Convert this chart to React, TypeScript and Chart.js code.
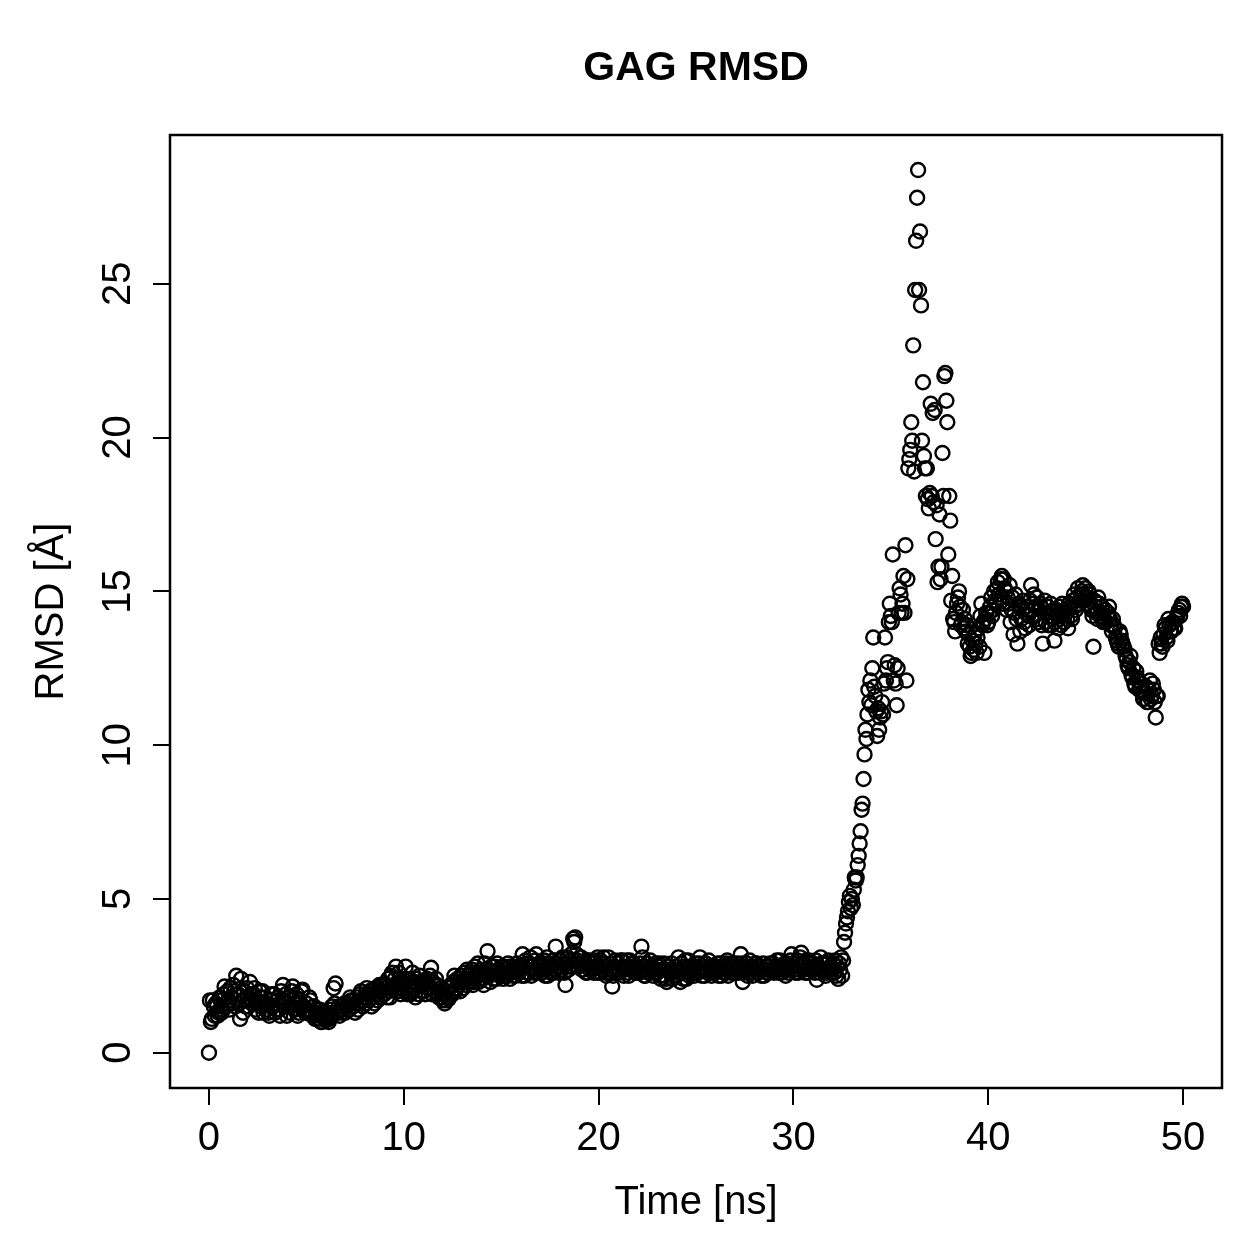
import React, { useEffect, useRef } from "react";
import { Chart, registerables } from "chart.js";

Chart.register(...registerables);

const title = "GAG RMSD";
const xLabel = "Time [ns]";
const yLabel = "RMSD [Å]";
const xTicks = [0, 10, 20, 30, 40, 50];
const yTicks = [0, 5, 10, 15, 20, 25];

// RMSD frames at 0.0, 0.1, 0.2 ... 50.0 ns
const timeStep = 0.1;
const rmsd = [
  0.0, 1.0, 1.7, 1.2, 1.5, 1.3, 1.7, 1.4, 2.15, 1.5,
  1.7, 2.1, 1.6, 2.0, 2.5, 1.9, 1.1, 1.7, 2.0, 1.5,
  1.8, 2.3, 1.6, 1.9, 1.4, 1.7, 2.0, 1.5, 1.3, 1.8,
  1.6, 1.2, 1.9, 1.5, 1.3, 1.7, 1.4, 2.0, 2.2, 1.6,
  1.2, 1.8, 1.5, 2.15, 1.4, 1.9, 1.3, 1.6, 2.05, 1.4,
  1.6, 1.3, 1.7, 1.2, 1.5, 1.3, 1.1, 1.4, 1.0, 1.2,
  1.05, 1.3, 1.1, 1.5, 2.1, 2.25, 1.3, 1.2, 1.5, 1.4,
  1.3, 1.6, 1.4, 1.7, 1.5, 1.3, 1.8, 1.6, 2.0, 1.5,
  1.8, 2.1, 1.7, 1.9, 2.05, 1.6, 1.9, 2.0, 1.8, 2.2,
  1.9, 2.1, 2.4, 1.8, 2.6, 2.2, 2.8, 2.0, 2.3, 2.1,
  2.2, 2.8, 1.9, 2.4, 2.0, 2.3, 1.8, 2.2, 2.5, 2.0,
  2.2, 1.9, 2.4, 2.1, 2.76, 2.3, 2.0, 2.2, 1.8, 2.1,
  1.7, 1.6, 2.0, 1.75, 2.2, 1.9, 2.5, 2.1, 2.3, 2.0,
  2.3, 2.6, 2.2, 2.5, 2.4, 2.7, 2.3, 2.6, 2.9, 2.4,
  2.6, 2.2, 2.7, 3.3, 2.5, 2.8, 2.4, 2.6, 2.9, 2.5,
  2.6, 2.4, 2.7, 2.5, 2.8, 2.6, 2.5, 2.7, 2.9, 2.6,
  2.7, 3.2, 2.5, 2.9, 2.6, 3.1, 2.8, 2.6, 3.2, 2.7,
  2.9, 2.6, 3.0, 2.7, 2.5, 2.9, 2.8, 2.6, 3.45, 2.8,
  3.0, 2.7, 2.9, 2.2, 3.1, 2.8, 3.2, 3.7, 3.75, 3.0,
  2.9, 3.1, 2.7, 2.9, 2.6, 3.0, 2.8, 2.7, 3.0, 2.6,
  2.8, 3.0, 2.7, 2.9, 2.5, 3.1, 2.7, 2.15, 2.8, 2.6,
  2.9, 2.7, 3.0, 2.5, 2.8, 2.6, 3.0, 2.7, 2.9, 2.6,
  2.8, 2.6, 3.45, 2.7, 2.5, 2.9, 2.6, 2.8, 2.5, 2.7,
  2.6, 2.9, 2.4, 2.7, 2.5, 2.3, 2.8, 2.6, 2.4, 2.7,
  2.5, 3.1, 2.3, 2.6, 2.8, 2.4, 3.0, 2.6, 2.7, 2.5,
  2.8, 2.6, 3.1, 2.5, 2.7, 2.9, 2.6, 2.8, 2.5, 2.7,
  2.6, 2.9, 2.7, 2.5, 2.8, 2.6, 3.0, 2.7, 2.6, 2.8,
  2.7, 2.9, 2.6, 3.2, 2.3, 2.7, 2.9, 2.6, 2.8, 2.5,
  2.7, 2.9, 2.6, 2.8, 2.7, 2.5, 2.8, 2.6, 2.9, 2.7,
  2.6, 2.8, 2.7, 3.0, 2.6, 2.8, 2.5, 2.9, 2.7, 3.2,
  2.8, 2.6, 3.0, 2.7, 3.25, 2.9, 2.6, 2.8, 3.0, 2.7,
  2.9, 2.6, 2.37, 2.8, 3.1, 2.7, 2.9, 2.6, 3.0, 2.8,
  2.7, 2.6, 2.5, 2.4, 2.7, 2.5, 3.6, 4.2, 4.6, 5.1,
  5.0, 5.3, 5.6, 6.1, 6.8, 7.9, 8.9, 10.5, 11.0, 11.4,
  11.3, 13.5, 11.6, 10.3, 10.5, 11.1, 11.0, 13.5, 12.5, 14.0,
  14.2, 16.2, 12.6, 11.3, 14.3, 14.9, 14.6, 14.3, 12.1, 19.0,
  19.6, 19.9, 18.9, 26.4, 28.7, 26.7, 19.9, 19.4, 18.1, 18.0,
  18.2, 18.1, 17.9, 16.7, 15.3, 17.5, 15.8, 18.1, 22.1, 20.5,
  18.1, 14.7, 14.1, 13.7, 14.6, 15.0, 13.9, 14.4, 14.1, 13.9,
  13.6, 12.9, 13.4, 13.6, 13.0, 13.8, 14.2, 13.9, 13.0, 14.3,
  14.0, 14.5, 14.2, 15.0, 14.6, 15.3, 14.8, 15.5, 15.4, 15.0,
  14.8, 15.2, 14.4, 13.6, 14.9, 13.3, 14.5, 14.1, 14.7, 13.8,
  14.4, 13.9, 15.2, 14.6, 14.2, 14.8, 14.0, 14.5, 13.3, 14.7,
  14.3, 13.9, 14.6, 14.1, 13.4, 14.4, 13.8, 14.2, 14.6, 14.0,
  14.3, 13.8, 14.5, 14.1, 14.9, 14.4, 15.1, 14.7, 15.0, 14.9,
  15.1, 14.6, 14.9, 14.4, 13.2, 14.5, 14.1, 14.6, 14.3, 14.0,
  14.4, 14.2, 14.5, 13.9, 14.1, 13.8, 13.4, 13.2, 13.6, 13.3,
  13.1, 12.8, 12.5, 12.9, 12.2, 12.0, 12.4, 12.1, 11.9, 11.7,
  11.5, 11.9, 11.4, 12.1, 11.6, 11.8, 10.9, 11.6, 13.0, 13.3,
  13.6, 13.8, 13.4, 13.9, 13.7, 14.0, 13.8, 14.2, 14.4, 14.5,
  14.5,
];

// Interleaved frames at 0.05, 0.15, 0.25 ... 49.95 ns
const halfStepStart = 0.05;
const rmsdHalfStep = [
  1.7, 1.1, 1.5, 1.6, 1.2, 1.8, 1.3, 1.9, 1.6, 2.0,
  1.4, 1.8, 2.2, 1.5, 1.9, 1.6, 2.4, 1.3, 1.7, 2.1,
  1.5, 1.9, 1.7, 2.1, 1.6, 1.3, 1.8, 2.0, 1.6, 1.4,
  1.3, 1.7, 1.5, 1.9, 1.4, 1.8, 1.2, 1.7, 1.5, 1.9,
  1.5, 1.3, 2.0, 1.6, 1.8, 1.2, 1.7, 2.0, 1.5, 1.3,
  1.4, 1.8, 1.3, 1.5, 1.1, 1.4, 1.2, 1.0, 1.3, 1.1,
  1.2, 1.0, 1.4, 1.2, 1.6, 1.3, 1.5, 1.4, 1.3, 1.6,
  1.5, 1.4, 1.8, 1.5, 1.7, 1.6, 1.4, 1.9, 1.7, 1.8,
  1.6, 1.9, 2.0, 1.5, 1.8, 2.1, 1.7, 2.2, 2.0, 1.9,
  2.2, 1.8, 2.0, 2.5, 2.1, 2.4, 2.0, 2.6, 1.9, 2.4,
  2.0, 2.4, 2.2, 1.9, 2.6, 2.1, 2.4, 1.9, 2.3, 2.2,
  2.0, 2.3, 2.1, 2.5, 1.9, 2.2, 2.4, 1.9, 2.0, 1.8,
  1.9, 1.7, 1.8, 2.1, 1.9, 2.3, 2.0, 2.4, 2.2, 2.5,
  2.1, 2.4, 2.7, 2.3, 2.6, 2.2, 2.8, 2.5, 2.3, 2.7,
  2.4, 2.9, 2.5, 2.7, 2.3, 2.6, 2.8, 2.4, 2.7, 2.6,
  2.8, 2.5, 2.6, 2.9, 2.4, 2.7, 2.8, 2.5, 2.6, 2.8,
  2.5, 2.8, 3.0, 2.6, 2.9, 2.5, 2.7, 3.0, 2.6, 2.9,
  2.7, 2.9, 2.5, 3.1, 2.8, 2.6, 3.0, 2.7, 2.9, 2.6,
  2.8, 3.1, 2.6, 2.9, 2.7, 3.0, 2.8, 3.6, 3.2, 2.8,
  3.1, 2.7, 2.9, 2.6, 3.0, 2.7, 2.9, 2.6, 2.8, 3.1,
  2.6, 2.9, 3.1, 2.6, 2.8, 2.6, 2.9, 2.5, 3.0, 2.7,
  2.6, 3.0, 2.8, 2.7, 3.0, 2.5, 2.8, 2.9, 2.6, 2.8,
  2.7, 2.9, 3.1, 2.5, 2.8, 2.6, 3.0, 2.7, 2.6, 2.9,
  2.8, 2.5, 2.7, 2.9, 2.4, 2.7, 2.6, 2.9, 2.5, 2.8,
  2.7, 2.6, 2.9, 2.4, 3.0, 2.7, 2.5, 2.8, 2.6, 2.9,
  2.6, 2.9, 2.7, 2.8, 2.5, 2.7, 3.0, 2.6, 2.8, 2.6,
  2.8, 2.5, 2.9, 2.7, 2.6, 2.9, 2.5, 2.8, 2.9, 2.6,
  2.6, 2.8, 2.7, 2.9, 2.6, 2.8, 2.5, 3.0, 2.7, 2.8,
  2.9, 2.6, 2.8, 2.5, 2.9, 2.7, 2.6, 2.8, 2.7, 2.9,
  2.7, 3.0, 2.6, 2.8, 2.7, 2.9, 2.7, 2.6, 3.0, 2.8,
  2.7, 2.9, 2.6, 3.1, 2.8, 2.7, 3.0, 2.6, 2.9, 2.8,
  2.7, 3.0, 2.8, 2.6, 2.9, 2.7, 2.5, 2.9, 2.7, 2.6,
  2.9, 3.0, 2.8, 2.9, 3.1, 3.0, 3.9, 4.4, 4.9, 4.7,
  4.8, 5.7, 5.7, 6.4, 7.2, 8.1, 9.7, 10.2, 11.8, 12.1,
  12.5, 11.9, 11.1, 11.2, 10.9, 11.4, 12.0, 12.1, 12.7, 14.6,
  14.0, 12.1, 12.0, 12.5, 15.1, 14.3, 15.5, 16.5, 15.4, 19.3,
  20.5, 23.0, 24.8, 27.8, 24.8, 24.3, 21.8, 19.0, 19.0, 17.7,
  21.1, 20.8, 20.9, 17.8, 15.8, 15.4, 19.5, 22.0, 21.2, 16.2,
  17.3, 15.5, 14.0, 14.3, 14.8, 14.5, 14.0, 13.8, 13.7, 13.3,
  13.2, 13.0, 13.1, 13.3, 13.5, 13.2, 14.6, 14.0, 14.1, 13.9,
  14.3, 14.8, 14.4, 14.7, 15.1, 14.9, 15.4, 14.6, 15.1, 14.4,
  14.6, 14.0, 14.8, 14.3, 14.1, 14.6, 13.7, 14.4, 14.0, 14.5,
  14.2, 14.7, 14.4, 14.9, 14.5, 14.1, 14.6, 13.9, 14.3, 14.0,
  14.5, 14.2, 13.9, 14.4, 14.0, 14.2, 14.5, 13.9, 14.3, 14.4,
  14.1, 14.6, 14.2, 14.7, 14.5, 14.8, 14.6, 14.9, 15.2, 14.7,
  14.8, 15.0, 14.5, 14.2, 14.7, 14.3, 14.8, 14.2, 14.5, 14.1,
  14.0, 14.3, 14.1, 13.7, 13.9, 13.5, 13.3, 13.7, 13.4, 13.2,
  12.9, 12.6, 12.7, 12.3, 12.5, 11.9, 12.2, 11.8, 12.0, 11.5,
  11.7, 11.4, 11.8, 11.5, 12.0, 11.4, 11.6, 13.3, 13.5, 13.2,
  13.9, 13.5, 14.1, 13.7, 14.0, 13.8, 14.1, 14.3, 14.2, 14.6,
];

const FONT = '"Liberation Sans", Arial, Helvetica, sans-serif';
const POINT_RADIUS = 7;
const POINT_LINE = 2.4;

export default function App() {
  const ref = useRef<HTMLCanvasElement>(null);

  useEffect(() => {
    if (!ref.current) return;
    const pts = rmsd.map((v, i) => ({ x: +(i * timeStep).toFixed(2), y: v }));
    const pts2 = rmsdHalfStep.map((v, i) => ({
      x: +(halfStepStart + i * timeStep).toFixed(2),
      y: v,
    }));

    const textPlugin = {
      id: "rtext",
      afterDraw(chart: any) {
        const { ctx, chartArea: a, scales } = chart;
        ctx.save();
        ctx.strokeStyle = "#000";
        ctx.lineWidth = 2.5;
        ctx.strokeRect(a.left, a.top, a.right - a.left, a.bottom - a.top);
        ctx.fillStyle = "#000";
        ctx.textAlign = "center";
        ctx.textBaseline = "middle";
        ctx.font = `bold 41px ${FONT}`;
        ctx.fillText(title, (a.left + a.right) / 2, 69);
        ctx.font = `40px ${FONT}`;
        xTicks.forEach((v) =>
          ctx.fillText(String(v), scales.x.getPixelForValue(v), 1139)
        );
        ctx.fillText(xLabel, (a.left + a.right) / 2, 1203);
        yTicks.forEach((v) => {
          ctx.save();
          ctx.translate(119, scales.y.getPixelForValue(v));
          ctx.rotate(-Math.PI / 2);
          ctx.fillText(String(v), 0, 0);
          ctx.restore();
        });
        ctx.save();
        ctx.translate(52, (a.top + a.bottom) / 2);
        ctx.rotate(-Math.PI / 2);
        ctx.fillText(yLabel, 0, 0);
        ctx.restore();
        ctx.restore();
      },
    };

    const pointStyle = {
      showLine: false,
      pointRadius: POINT_RADIUS,
      pointBorderWidth: POINT_LINE,
      pointBorderColor: "#000",
      pointBackgroundColor: "rgba(0,0,0,0)",
      pointStyle: "circle" as const,
    };

    const chart = new Chart(ref.current, {
      type: "scatter",
      data: {
        datasets: [
          { label: "rmsd", data: pts, ...pointStyle },
          { label: "rmsd-half", data: pts2, ...pointStyle },
        ],
      },
      options: {
        responsive: false,
        animation: false,
        events: [],
        elements: {
          point: {
            radius: POINT_RADIUS,
            borderWidth: POINT_LINE,
            borderColor: "#000",
            backgroundColor: "rgba(0,0,0,0)",
            pointStyle: "circle",
          },
        },
        layout: { padding: { top: 135, right: 37, bottom: 0, left: 0 } },
        plugins: {
          legend: { display: false },
          tooltip: { enabled: false },
          title: { display: false },
        },
        scales: {
          x: {
            type: "linear",
            min: -2,
            max: 52,
            afterBuildTicks: (s: any) => {
              s.ticks = xTicks.map((v) => ({ value: v }));
            },
            afterFit: (s: any) => {
              s.height = 171;
            },
            ticks: { display: false },
            border: { display: false },
            grid: {
              drawOnChartArea: false,
              drawTicks: true,
              tickLength: 17,
              color: "#000",
              lineWidth: 2,
            },
          },
          y: {
            type: "linear",
            min: -1.148,
            max: 29.84,
            afterBuildTicks: (s: any) => {
              s.ticks = yTicks.map((v) => ({ value: v }));
            },
            afterFit: (s: any) => {
              s.width = 170;
            },
            ticks: { display: false },
            border: { display: false },
            grid: {
              drawOnChartArea: false,
              drawTicks: true,
              tickLength: 17,
              color: "#000",
              lineWidth: 2,
            },
          },
        },
      },
      plugins: [textPlugin],
    });
    return () => chart.destroy();
  }, []);

  return (
    <div
      style={{
        position: "absolute",
        left: 0,
        top: 0,
        width: 1259,
        height: 1259,
        background: "#fff",
      }}
    >
      <canvas
        ref={ref}
        width={1259}
        height={1259}
        style={{ width: 1259, height: 1259, display: "block" }}
      />
    </div>
  );
}
